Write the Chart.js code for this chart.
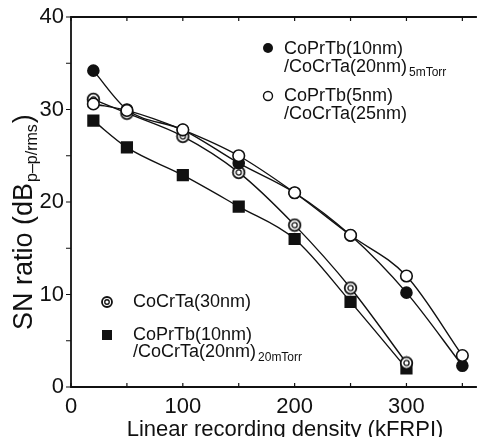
<!DOCTYPE html>
<html>
<head>
<meta charset="utf-8">
<script src="https://cdn.jsdelivr.net/npm/chart.js@4/dist/chart.umd.min.js"></script>
<style>
  html, body { margin: 0; padding: 0; background: #fff; }
  #wrap { width: 486px; height: 437px; position: relative; }
</style>
</head>
<body>
<div id="wrap"><canvas id="snChart"></canvas></div>
<script>
// recording density (kFRPI)
var density = [20, 50, 100, 150, 200, 250, 300, 350];
// SN ratio (dB p-p/rms)
var snCoPrTb10_5m = [34.2, 30.0, 27.8, 24.2, 21.0, 16.4, 10.2, 2.3];
var snCoPrTb5 = [30.6, 29.9, 27.8, 25.0, 21.0, 16.4, 12.0, 3.4];
var snCoCrTa30 = [31.1, 29.6, 27.1, 23.2, 17.5, 10.7, 2.6];
var snCoPrTb10_20m = [28.8, 25.9, 22.9, 19.5, 16.0, 9.2, 2.0];

var xTicks = [0, 50, 100, 150, 200, 250, 300, 350];
var xLabels = [0, 100, 200, 300];
var yTicks = [0, 5, 10, 15, 20, 25, 30, 35, 40];
var yLabels = [0, 10, 20, 30, 40];

var FONT = '"Liberation Sans", Arial, sans-serif';

function pts(vals) {
    return vals.map(function (v, i) { return { x: density[i], y: v }; });
}

// double circle marker for CoCrTa(30nm)
function drawDouble(ctx, x, y, r) {
    ctx.save();
    ctx.strokeStyle = '#111';
    ctx.fillStyle = '#fff';
    ctx.lineWidth = 1.8;
    ctx.beginPath(); ctx.arc(x, y, r, 0, Math.PI * 2); ctx.fill(); ctx.stroke();
    ctx.lineWidth = 1.3;
    ctx.beginPath(); ctx.arc(x, y, r * 0.45, 0, Math.PI * 2); ctx.stroke();
    ctx.restore();
}
var dbl = document.createElement('canvas');
dbl.width = 15; dbl.height = 15;
drawDouble(dbl.getContext('2d'), 7.5, 7.5, 5.8);

function line(label, vals, style, fill, radius, order) {
    return {
        label: label,
        data: pts(vals),
        borderColor: '#111',
        borderWidth: 1.4,
        pointStyle: style,
        pointRadius: radius,
        pointBackgroundColor: fill,
        pointBorderColor: '#111',
        pointBorderWidth: 1.6,
        cubicInterpolationMode: 'monotone',
        order: order
    };
}

var axesPlugin = {
    id: 'axesPlugin',
    beforeDatasetsDraw: function (chart) {
        var ctx = chart.ctx, a = chart.chartArea, x = chart.scales.x, y = chart.scales.y;
        ctx.save();
        ctx.strokeStyle = '#111';
        ctx.lineWidth = 1.8;
        ctx.beginPath();
        ctx.moveTo(a.right, a.top); ctx.lineTo(a.left, a.top);
        ctx.lineTo(a.left, a.bottom); ctx.lineTo(a.right, a.bottom);
        ctx.stroke();
        ctx.lineWidth = 1.2;
        ctx.beginPath();
        xTicks.forEach(function (v) {
            var px = x.getPixelForValue(v);
            ctx.moveTo(px, a.bottom); ctx.lineTo(px, a.bottom - 4);
            ctx.moveTo(px, a.top); ctx.lineTo(px, a.top + 4);
        });
        yTicks.forEach(function (v) {
            var py = y.getPixelForValue(v);
            ctx.moveTo(a.left, py); ctx.lineTo(a.left - 5, py);
        });
        ctx.stroke();
        ctx.restore();
    },
    afterDraw: function (chart) {
        var ctx = chart.ctx, a = chart.chartArea, x = chart.scales.x, y = chart.scales.y;
        ctx.save();
        ctx.fillStyle = '#111';
        // tick labels
        ctx.font = '22px ' + FONT;
        ctx.textAlign = 'center';
        ctx.textBaseline = 'top';
        xLabels.forEach(function (v) {
            ctx.fillText(String(v), x.getPixelForValue(v), a.bottom + 9);
        });
        ctx.textAlign = 'right';
        ctx.textBaseline = 'middle';
        yLabels.forEach(function (v) {
            ctx.fillText(String(v), a.left - 7, y.getPixelForValue(v));
        });
        // x title
        ctx.textAlign = 'center';
        ctx.textBaseline = 'alphabetic';
        ctx.fillText('Linear recording density (kFRPI)', 285, 436);
        // y title with subscript
        ctx.save();
        ctx.translate(32, 330);
        ctx.rotate(-Math.PI / 2);
        ctx.textAlign = 'left';
        ctx.font = '27px ' + FONT;
        ctx.fillText('SN ratio (dB', 0, 0);
        var w = ctx.measureText('SN ratio (dB').width;
        ctx.font = '16px ' + FONT;
        ctx.fillText('p\u2013p/rms', w + 1, 5);
        var w2 = ctx.measureText('p\u2013p/rms').width;
        ctx.font = '27px ' + FONT;
        ctx.fillText(')', w + w2 + 2, 0);
        ctx.restore();

        // legend, upper right
        ctx.textAlign = 'left';
        ctx.textBaseline = 'middle';
        ctx.beginPath(); ctx.arc(268, 48, 5, 0, Math.PI * 2); ctx.fill();
        ctx.lineWidth = 1.4;
        ctx.strokeStyle = '#111';
        ctx.beginPath(); ctx.arc(268, 96, 4.5, 0, Math.PI * 2); ctx.stroke();
        ctx.font = '18px ' + FONT;
        ctx.fillText('CoPrTb(10nm)', 284, 49);
        ctx.fillText('/CoCrTa(20nm)', 284, 67);
        var s1 = ctx.measureText('/CoCrTa(20nm)').width;
        ctx.fillText('CoPrTb(5nm)', 284, 96);
        ctx.fillText('/CoCrTa(25nm)', 284, 114);
        ctx.font = '12px ' + FONT;
        ctx.fillText('5mTorr', 284 + s1 + 2, 73);

        // legend, lower left
        drawDouble(ctx, 107, 302, 5);
        ctx.fillRect(102, 330, 10, 10);
        ctx.font = '18px ' + FONT;
        ctx.fillText('CoCrTa(30nm)', 133, 302);
        ctx.fillText('CoPrTb(10nm)', 133, 335);
        ctx.fillText('/CoCrTa(20nm)', 133, 352);
        var s2 = ctx.measureText('/CoCrTa(20nm)').width;
        ctx.font = '12px ' + FONT;
        ctx.fillText('20mTorr', 133 + s2 + 2, 358);
        ctx.restore();
    }
};

var ctx = document.getElementById('snChart').getContext('2d');
var snChart = new Chart(ctx, {
    type: 'line',
    data: {
        datasets: [
            line('CoPrTb(5nm)/CoCrTa(25nm)', snCoPrTb5, 'circle', '#fff', 5.8, 0),
            line('CoPrTb(10nm)/CoCrTa(20nm) 5mTorr', snCoPrTb10_5m, 'circle', '#111', 5.5, 1),
            line('CoCrTa(30nm)', snCoCrTa30, dbl, '#fff', 6, 2),
            line('CoPrTb(10nm)/CoCrTa(20nm) 20mTorr', snCoPrTb10_20m, 'rect', '#111', 7.5, 3)
        ]
    },
    options: {
        responsive: true,
        maintainAspectRatio: false,
        animation: false,
        layout: { padding: { left: 71, top: 17, right: 0, bottom: 50 } },
        scales: {
            x: { type: 'linear', min: 0, max: 363, display: false },
            y: { type: 'linear', min: 0, max: 40, display: false }
        },
        plugins: {
            legend: { display: false },
            tooltip: { enabled: false }
        },
        clip: false
    },
    plugins: [axesPlugin]
});
</script>
</body>
</html>
